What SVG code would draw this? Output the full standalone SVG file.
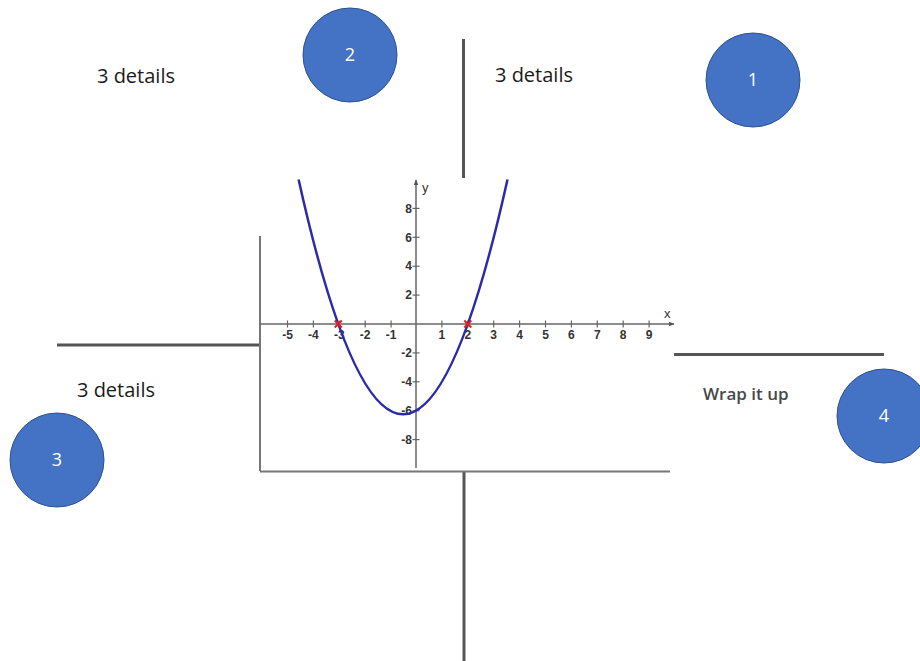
<svg xmlns="http://www.w3.org/2000/svg" width="920" height="661" viewBox="0 0 920 661">
<defs>
<style>
.circ{fill:#4472C4;stroke:#2F528F;stroke-width:1}
.num{font-family:"Open Sans","Liberation Sans",sans-serif;font-size:18px;fill:#ffffff;text-anchor:middle}
.lbl{font-family:"Open Sans","Liberation Sans",sans-serif;font-size:20px;fill:#1a1a1a}
.wrap{font-family:"Open Sans","Liberation Sans",sans-serif;font-size:17px;font-weight:600;fill:#484848}
.div{stroke:#555;stroke-width:3;fill:none}
.frame{stroke:#777;stroke-width:2;fill:none}
.axis{stroke:#666;stroke-width:1.5;fill:none}
.tick{stroke:#666;stroke-width:1.2}
.tl{font-family:"Liberation Sans",Arial,sans-serif;font-size:12px;font-weight:bold;fill:#333}
.xl{text-anchor:middle}
.yl{text-anchor:end}
.mark{stroke:#e02020;stroke-width:2}
</style>
<marker id="arr" viewBox="0 0 10 10" refX="9" refY="5" markerWidth="6" markerHeight="6" orient="auto" markerUnits="userSpaceOnUse">
<path d="M0,1 L10,5 L0,9 z" fill="#555"/>
</marker>
</defs>
<rect width="920" height="661" fill="#ffffff"/>

<g id="connectors">
<line class="div" x1="463.5" y1="39" x2="463.5" y2="178"/>
<line class="div" x1="464" y1="472" x2="464" y2="661"/>
<line class="div" x1="57" y1="345" x2="260" y2="345"/>
<line class="div" x1="674" y1="354.5" x2="884" y2="354.5"/>
</g>

<g id="graph">
<line class="frame" x1="260" y1="236" x2="260" y2="471"/>
<line class="frame" x1="260" y1="471.5" x2="670" y2="471.5"/>
<line class="axis" x1="260" y1="324" x2="674" y2="324" marker-end="url(#arr)"/>
<line class="axis" x1="416" y1="468" x2="416" y2="180" marker-end="url(#arr)"/>
<g class="tick">
<line x1="287.5" y1="320.5" x2="287.5" y2="327.5"/>
<line x1="313.4" y1="320.5" x2="313.4" y2="327.5"/>
<line x1="339.3" y1="320.5" x2="339.3" y2="327.5"/>
<line x1="365.2" y1="320.5" x2="365.2" y2="327.5"/>
<line x1="391.1" y1="320.5" x2="391.1" y2="327.5"/>
<line x1="441.9" y1="320.5" x2="441.9" y2="327.5"/>
<line x1="467.8" y1="320.5" x2="467.8" y2="327.5"/>
<line x1="493.7" y1="320.5" x2="493.7" y2="327.5"/>
<line x1="519.6" y1="320.5" x2="519.6" y2="327.5"/>
<line x1="545.5" y1="320.5" x2="545.5" y2="327.5"/>
<line x1="571.4" y1="320.5" x2="571.4" y2="327.5"/>
<line x1="597.3" y1="320.5" x2="597.3" y2="327.5"/>
<line x1="623.2" y1="320.5" x2="623.2" y2="327.5"/>
<line x1="649.1" y1="320.5" x2="649.1" y2="327.5"/>
<line x1="412.5" y1="208.4" x2="419.5" y2="208.4"/>
<line x1="412.5" y1="237.3" x2="419.5" y2="237.3"/>
<line x1="412.5" y1="266.2" x2="419.5" y2="266.2"/>
<line x1="412.5" y1="295.1" x2="419.5" y2="295.1"/>
<line x1="412.5" y1="352.9" x2="419.5" y2="352.9"/>
<line x1="412.5" y1="381.8" x2="419.5" y2="381.8"/>
<line x1="412.5" y1="410.7" x2="419.5" y2="410.7"/>
<line x1="412.5" y1="439.6" x2="419.5" y2="439.6"/>
</g>
<g class="tl xl">
<text x="287.5" y="338.5">-5</text>
<text x="313.4" y="338.5">-4</text>
<text x="339.3" y="338.5">-3</text>
<text x="365.2" y="338.5">-2</text>
<text x="391.1" y="338.5">-1</text>
<text x="441.9" y="338.5">1</text>
<text x="467.8" y="338.5">2</text>
<text x="493.7" y="338.5">3</text>
<text x="519.6" y="338.5">4</text>
<text x="545.5" y="338.5">5</text>
<text x="571.4" y="338.5">6</text>
<text x="597.3" y="338.5">7</text>
<text x="623.2" y="338.5">8</text>
<text x="649.1" y="338.5">9</text>
</g>
<g class="tl yl">
<text x="412" y="212.6">8</text>
<text x="412" y="241.5">6</text>
<text x="412" y="270.4">4</text>
<text x="412" y="299.3">2</text>
<text x="412" y="357.1">-2</text>
<text x="412" y="386">-4</text>
<text x="412" y="414.9">-6</text>
<text x="412" y="443.8">-8</text>
</g>
<text class="tl" x="422" y="192" style="font-weight:normal;font-size:13px">y</text>
<text class="tl" x="664" y="318" style="font-weight:normal;font-size:13px">x</text>
<path d="M298.6,179.5 Q403.05,649.1 507.5,179.5" fill="none" stroke="#2b2ba8" stroke-width="2.5"/>
<g class="mark">
<line x1="334.8" y1="320.5" x2="341.8" y2="327.5"/>
<line x1="334.8" y1="327.5" x2="341.8" y2="320.5"/>
<line x1="464.3" y1="320.5" x2="471.3" y2="327.5"/>
<line x1="464.3" y1="327.5" x2="471.3" y2="320.5"/>
</g>
</g>

<g id="node1">
<circle class="circ" cx="753" cy="80" r="47"/>
<text class="num" x="753" y="86">1</text>
</g>
<g id="node2">
<circle class="circ" cx="350" cy="55" r="47"/>
<text class="num" x="350" y="61">2</text>
</g>
<g id="node3">
<circle class="circ" cx="57" cy="460" r="47"/>
<text class="num" x="57" y="466">3</text>
</g>
<g id="node4">
<circle class="circ" cx="884" cy="416" r="47"/>
<text class="num" x="884" y="422">4</text>
</g>

<g id="label2"><text class="lbl" x="97" y="83">3 details</text></g>
<g id="label1"><text class="lbl" x="495" y="82">3 details</text></g>
<g id="label3"><text class="lbl" x="77" y="397">3 details</text></g>
<g id="label4"><text class="wrap" x="703" y="400">Wrap it up</text></g>
</svg>
